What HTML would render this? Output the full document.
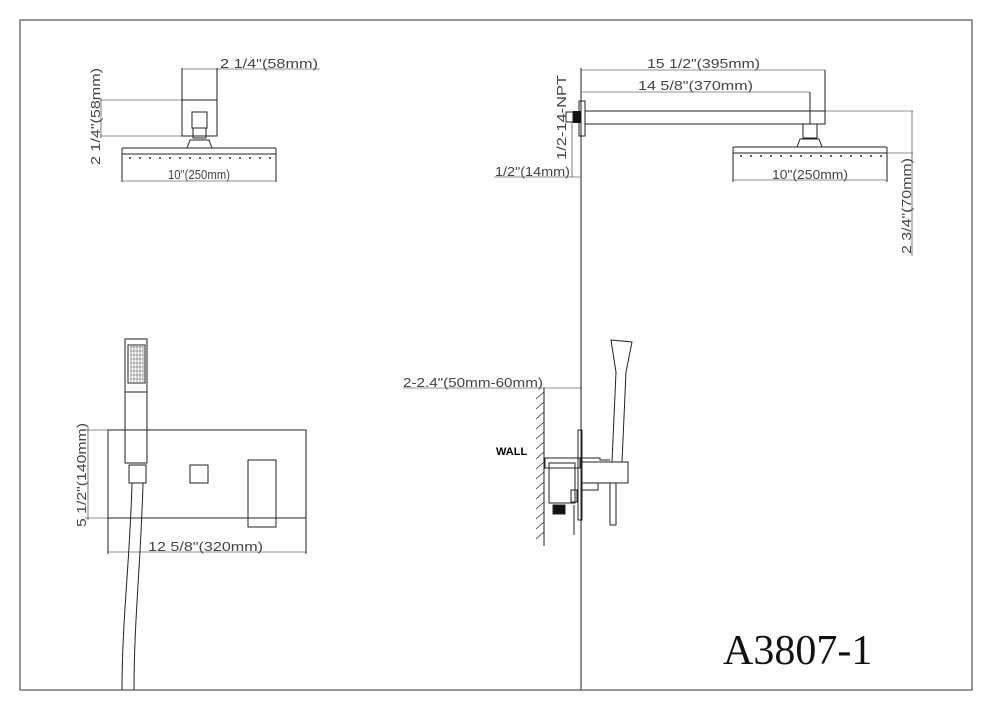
<!DOCTYPE html>
<html><head><style>body{margin:0;background:#fff}svg{display:block}</style></head><body>
<svg width="990" height="710" viewBox="0 0 990 710" xmlns="http://www.w3.org/2000/svg" font-family="Liberation Sans, sans-serif">
<rect x="20" y="20" width="952" height="670" fill="none" stroke="#333" stroke-width="1"/>
<g stroke="#222" fill="none" stroke-width="1">
<line x1="182" y1="68" x2="182" y2="100"/><line x1="217" y1="68" x2="217" y2="100"/>
<line x1="182" y1="69" x2="320" y2="69" stroke-width="0.6"/>
<rect x="182" y="100" width="35" height="36"/>
<line x1="100" y1="100" x2="182" y2="100" stroke-width="0.6"/><line x1="100" y1="136" x2="182" y2="136" stroke-width="0.6"/>
<line x1="101" y1="98" x2="101" y2="138" stroke-width="0.6"/>
<rect x="192" y="112" width="15" height="16"/><rect x="193" y="128" width="13" height="10"/>
<path d="M187 148 L190 140 L209 140 L212 148"/>
<rect x="122" y="148" width="154" height="6" rx="1"/>
<line x1="122" y1="154" x2="122" y2="182"/><line x1="276" y1="154" x2="276" y2="182"/>
<line x1="122" y1="181" x2="276" y2="181" stroke-width="0.6"/>
<line x1="581" y1="68" x2="581" y2="690"/>
<line x1="581" y1="70" x2="825" y2="70" stroke-width="0.6"/><line x1="825" y1="70" x2="825" y2="124"/>
<line x1="581" y1="92" x2="810" y2="92" stroke-width="0.6"/><line x1="810" y1="92" x2="810" y2="124"/>
<rect x="585" y="111" width="240" height="13"/>
<rect x="579" y="101" width="6" height="35"/>
<rect x="566" y="112" width="7" height="10"/>
<line x1="494" y1="177" x2="580" y2="177" stroke-width="0.6"/><line x1="572" y1="122" x2="572" y2="177" stroke-width="0.6"/>
<rect x="803" y="124" width="14" height="14"/>
<path d="M797 147 L800 139 L819 139 L822 147"/>
<rect x="733" y="147" width="154" height="6" rx="1"/>
<line x1="733" y1="153" x2="733" y2="182"/><line x1="887" y1="153" x2="887" y2="182"/>
<line x1="733" y1="180" x2="887" y2="180" stroke-width="0.6"/>
<line x1="825" y1="111" x2="913" y2="111" stroke-width="0.6"/><line x1="887" y1="153" x2="913" y2="153" stroke-width="0.6"/>
<line x1="912" y1="111" x2="912" y2="256" stroke-width="0.6"/>
<rect x="125" y="339" width="22" height="124"/>
<rect x="128" y="345" width="17" height="38"/>
<line x1="125" y1="392" x2="147" y2="392"/>
<rect x="129" y="465" width="17" height="18"/>
<rect x="108" y="430" width="198" height="88"/>
<line x1="85" y1="430" x2="108" y2="430" stroke-width="0.6"/><line x1="85" y1="518" x2="108" y2="518" stroke-width="0.6"/>
<line x1="88" y1="428" x2="88" y2="520" stroke-width="0.6"/>
<rect x="190" y="465" width="18" height="18"/>
<rect x="248" y="460" width="28" height="67"/>
<line x1="108" y1="518" x2="108" y2="554"/><line x1="306" y1="518" x2="306" y2="554"/>
<line x1="108" y1="552" x2="306" y2="552" stroke-width="0.6"/>
<path d="M132 483 C130 560 122 620 122 690"/><path d="M143 483 C141 560 134 620 134 690"/>
<line x1="403" y1="388" x2="582" y2="388" stroke-width="0.6"/>
<line x1="544" y1="388" x2="544" y2="546"/>
<g stroke-width="0.7">
<path d="M544 392l-8 7M544 402l-8 7M544 412l-8 7M544 422l-8 7M544 432l-8 7M544 442l-8 7M544 452l-8 7M544 462l-8 7M544 472l-8 7M544 482l-8 7M544 492l-8 7M544 502l-8 7M544 512l-8 7M544 522l-8 7M544 532l-8 7"/>
</g>
<rect x="545" y="458" width="35" height="10"/>
<rect x="549" y="463" width="26" height="40"/>
<rect x="578" y="430" width="4" height="90"/>
<path d="M582 458 L600 458 L600 460 L610 460"/>
<rect x="582" y="462" width="46" height="21"/>
<path d="M611 340 L632 342 L626 372 L622 462 L612 462 L616 372 Z"/>
<rect x="610" y="483" width="6" height="42"/>
<path d="M598 483 L598 490 L582 490"/>
<rect x="571" y="490" width="6" height="12"/>
<rect x="553" y="505" width="12" height="9" fill="#111"/>
<line x1="574" y1="505" x2="574" y2="535"/>
</g>
<rect x="573" y="111" width="8" height="12" fill="#111"/>
<g fill="#333">
<circle cx="130" cy="158" r="1"/><circle cx="140" cy="158" r="1"/><circle cx="150" cy="158" r="1"/><circle cx="160" cy="158" r="1"/><circle cx="170" cy="158" r="1"/><circle cx="180" cy="158" r="1"/><circle cx="190" cy="158" r="1"/><circle cx="200" cy="158" r="1"/><circle cx="210" cy="158" r="1"/><circle cx="220" cy="158" r="1"/><circle cx="230" cy="158" r="1"/><circle cx="240" cy="158" r="1"/><circle cx="250" cy="158" r="1"/><circle cx="260" cy="158" r="1"/><circle cx="270" cy="158" r="1"/>
<circle cx="741" cy="156" r="1"/><circle cx="751" cy="156" r="1"/><circle cx="761" cy="156" r="1"/><circle cx="771" cy="156" r="1"/><circle cx="781" cy="156" r="1"/><circle cx="791" cy="156" r="1"/><circle cx="801" cy="156" r="1"/><circle cx="811" cy="156" r="1"/><circle cx="821" cy="156" r="1"/><circle cx="831" cy="156" r="1"/><circle cx="841" cy="156" r="1"/><circle cx="851" cy="156" r="1"/><circle cx="861" cy="156" r="1"/><circle cx="871" cy="156" r="1"/><circle cx="881" cy="156" r="1"/>
</g>
<g fill="none" stroke="#555" stroke-width="0.5">
<path d="M130 347h13M130 351h13M130 355h13M130 359h13M130 363h13M130 367h13M130 371h13M130 375h13M130 379h13M131 346v36M134 346v36M137 346v36M140 346v36M143 346v36"/>
</g>
<g fill="#444" font-size="13" lengthAdjust="spacingAndGlyphs">
<text x="220" y="68" textLength="98" lengthAdjust="spacingAndGlyphs">2 1/4"(58mm)</text>
<text x="168" y="179" textLength="62" lengthAdjust="spacingAndGlyphs">10"(250mm)</text>
<text transform="translate(100,165) rotate(-90)" textLength="97" lengthAdjust="spacingAndGlyphs">2 1/4"(58mm)</text>
<text x="647" y="68" textLength="113" lengthAdjust="spacingAndGlyphs">15 1/2"(395mm)</text>
<text x="638" y="90" textLength="115" lengthAdjust="spacingAndGlyphs">14 5/8"(370mm)</text>
<text transform="translate(566,160) rotate(-90)" textLength="85" lengthAdjust="spacingAndGlyphs">1/2-14-NPT</text>
<text x="495" y="176" textLength="75" lengthAdjust="spacingAndGlyphs">1/2"(14mm)</text>
<text x="772" y="179" textLength="76" lengthAdjust="spacingAndGlyphs">10"(250mm)</text>
<text transform="translate(911,254) rotate(-90)" textLength="96" lengthAdjust="spacingAndGlyphs">2 3/4"(70mm)</text>
<text transform="translate(86,527) rotate(-90)" textLength="104" lengthAdjust="spacingAndGlyphs">5 1/2"(140mm)</text>
<text x="148" y="551" textLength="115" lengthAdjust="spacingAndGlyphs">12 5/8"(320mm)</text>
<text x="403" y="387" textLength="140" lengthAdjust="spacingAndGlyphs">2-2.4"(50mm-60mm)</text>
</g>
<text x="496" y="455" font-size="11" font-weight="bold" fill="#000">WALL</text>
<text x="723" y="664" font-family="Liberation Serif, serif" font-size="42" fill="#111">A3807-1</text>
</svg>
</body></html>
